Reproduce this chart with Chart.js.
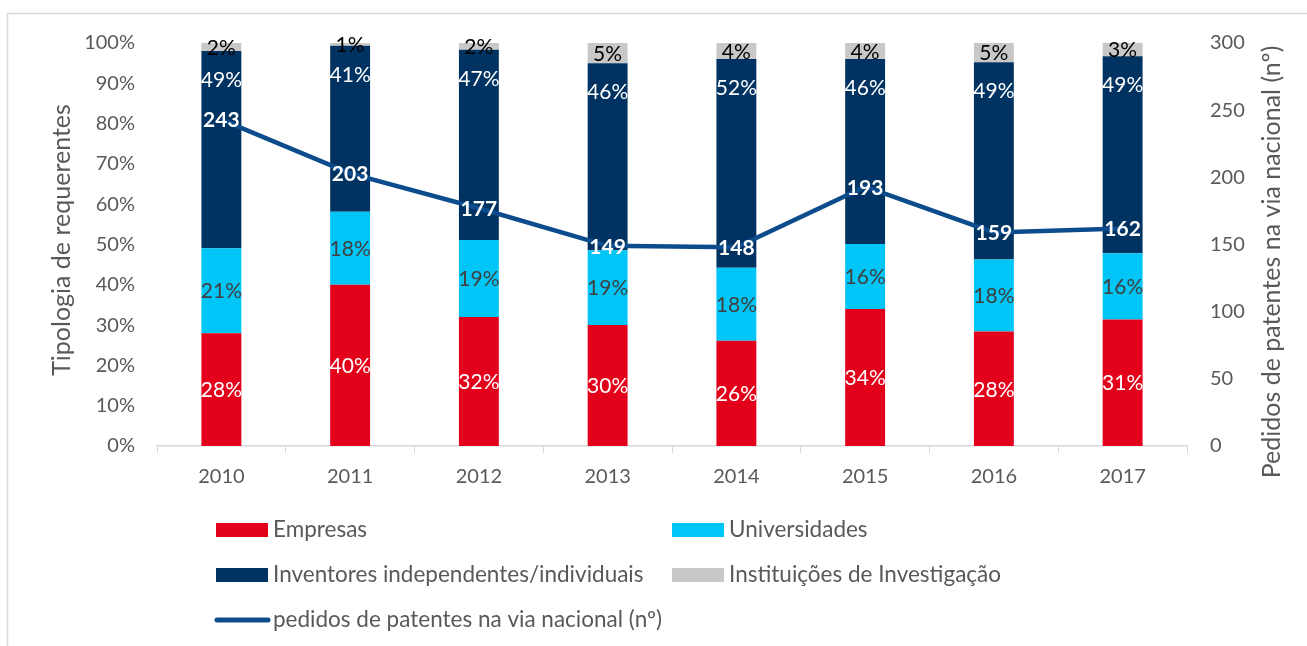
<!DOCTYPE html>
<html><head><meta charset="utf-8">
<script src="https://cdn.jsdelivr.net/npm/chart.js@4.4.1/dist/chart.umd.min.js"></script>
<style>html,body{margin:0;padding:0;background:#fff;}#wrap{width:1307px;height:646px;}</style>
</head><body><div id="wrap"><canvas id="c" width="1307" height="646"></canvas></div>
<script>
const years = ['2010','2011','2012','2013','2014','2015','2016','2017'];
const empresas = [28.0,40.0,32.0,30.0,26.1,34.0,28.4,31.4];
const universidades = [21.1,18.1,19.1,18.6,18.1,16.1,17.9,16.4];
const inventores = [48.9,41.2,47.2,46.4,51.8,45.9,48.9,48.9];
const instituicoes = [2.0,0.7,1.7,5.0,4.0,4.0,4.8,3.3];
const pedidos = [243,203,177,149,148,193,159,162];
const seriesNames = ['Empresas','Universidades','Inventores independentes/individuais','Instituições de Investigação','pedidos de patentes na via nacional (nº)'];
const leftTitle = 'Tipologia de requerentes';
const rightTitle = 'Pedidos de patentes na via nacional (nº)';

const FONT = 'Lato, "Open Sans", sans-serif';
const GREY_TXT = '#595959';
const colors = ['#e2001a','#00c5f7','#003361','#c8c8c8','#0d4c8c'];
const labelColors = ['#ffffff','#404040','#ffffff','#000000'];

const frame = {
  id:'frame',
  beforeDraw(chart){
    const ctx = chart.ctx;
    ctx.save();
    ctx.fillStyle='#fff'; ctx.fillRect(0,0,chart.width,chart.height);
    ctx.strokeStyle='#d9d9d9'; ctx.lineWidth=1.5;
    ctx.beginPath(); ctx.moveTo(7.5,chart.height); ctx.lineTo(7.5,13.5); ctx.lineTo(chart.width,13.5); ctx.stroke();
    ctx.restore();
  },
  afterDraw(chart){
    const ctx = chart.ctx;
    ctx.save();
    ctx.font = '25px ' + FONT;
    ctx.fillStyle = GREY_TXT;
    ctx.textAlign='center'; ctx.textBaseline='middle';
    ctx.translate(62, 240); ctx.rotate(-Math.PI/2); ctx.fillText(leftTitle, 0, 0);
    ctx.restore();
    ctx.save();
    ctx.font = '25px ' + FONT;
    ctx.fillStyle = GREY_TXT;
    ctx.textAlign='center'; ctx.textBaseline='middle';
    ctx.translate(1272, 262); ctx.rotate(-Math.PI/2); ctx.fillText(rightTitle, 0, 0);
    ctx.restore();
  }
};

const dataLabels = {
  id:'dataLabels',
  afterDatasetsDraw(chart){
    const ctx = chart.ctx;
    ctx.save();
    ctx.textAlign='center'; ctx.textBaseline='middle';
    chart.data.datasets.forEach((ds, di) => {
      const meta = chart.getDatasetMeta(di);
      if (ds.type === 'line') {
        ctx.font = 'bold 21px ' + FONT;
        ctx.fillStyle = '#ffffff';
        meta.data.forEach((pt, i) => ctx.fillText(String(ds.data[i]), pt.x, pt.y + 1));
      } else {
        ctx.font = '21px ' + FONT;
        ctx.fillStyle = labelColors[ds.sIndex];
        meta.data.forEach((bar, i) => {
          const txt = Math.round(ds.data[i]) + '%';
          let y;
          if (ds.sIndex === 2) y = bar.y + 29;
          else y = (bar.y + bar.base) / 2 + 1;
          ctx.fillText(txt, bar.x, y);
        });
      }
    });
    ctx.restore();
  }
};

const legendPlugin = {
  id:'customLegend',
  afterDraw(chart){
    const ctx = chart.ctx;
    ctx.save();
    ctx.font = '22.5px ' + FONT;
    ctx.textBaseline = 'middle';
    const items = [
      {i:0, x:216, y:530}, {i:1, x:672, y:530},
      {i:2, x:216, y:575}, {i:3, x:672, y:575},
      {i:4, x:216, y:620}
    ];
    items.forEach(it => {
      if (it.i === 4) {
        ctx.strokeStyle = colors[4]; ctx.lineWidth = 5; ctx.lineCap='round';
        ctx.beginPath(); ctx.moveTo(it.x+1, it.y); ctx.lineTo(it.x+52, it.y); ctx.stroke();
      } else {
        ctx.fillStyle = colors[it.i];
        ctx.fillRect(it.x, it.y-7, 52, 14);
      }
      ctx.fillStyle = GREY_TXT;
      ctx.fillText(seriesNames[it.i], it.x + 57, it.y);
    });
    ctx.restore();
  }
};

const barSets = [empresas, universidades, inventores, instituicoes].map((d, k) => ({
  type:'bar', label: seriesNames[k], data: d, sIndex: k,
  backgroundColor: colors[k], yAxisID:'y', order: 1,
  categoryPercentage: 1.0, barPercentage: 0.31, borderWidth: 0
}));

new Chart(document.getElementById('c'), {
  data: {
    labels: years,
    datasets: [
      { type:'line', label: seriesNames[4], data: pedidos, yAxisID:'y1', order: 0,
        borderColor: colors[4], borderWidth: 4.5, pointRadius: 0, tension: 0, fill:false },
      ...barSets
    ]
  },
  options: {
    responsive:false, animation:false,
    layout:{ padding:{ left:46, right:19, top:43, bottom:0 } },
    plugins:{ legend:{display:false}, tooltip:{enabled:false} },
    scales:{
      x:{
        stacked:true,
        grid:{ display:true, drawOnChartArea:false, drawTicks:true, tickLength:7, color:'#d9d9d9', offset:true },
        border:{ color:'#d9d9d9', width:1.5 },
        ticks:{ color:GREY_TXT, font:{size:20, family:FONT}, padding:12 },
        afterFit(s){ s.height = 200; }
      },
      y:{
        stacked:true, min:0, max:100, position:'left',
        grid:{ display:false, drawTicks:false }, border:{ display:false },
        ticks:{ stepSize:10, color:GREY_TXT, font:{size:20, family:FONT}, padding:22, callback:v=>v+'%' },
        afterFit(s){ s.width = 111; }
      },
      y1:{
        stacked:false, min:0, max:300, position:'right',
        grid:{ display:false, drawTicks:false }, border:{ display:false },
        ticks:{ stepSize:50, color:GREY_TXT, font:{size:20, family:FONT}, padding:23 },
        afterFit(s){ s.width = 101; }
      }
    }
  },
  plugins:[frame, dataLabels, legendPlugin]
});
</script>
</body></html>
